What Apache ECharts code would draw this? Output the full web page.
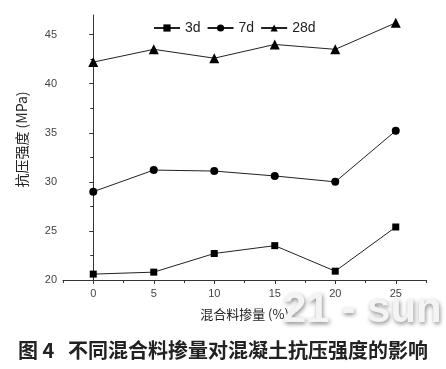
<!DOCTYPE html>
<html><head><meta charset="utf-8">
<script src="https://cdn.jsdelivr.net/npm/echarts@6/dist/echarts.min.js"></script>
<style>html,body{margin:0;padding:0;background:#fff}#c{width:446px;height:369px}</style>
</head><body><div id="c"></div>
<script>
const dosage = [0, 5, 10, 15, 20, 25];
const s3d = [20.6, 20.8, 22.7, 23.5, 20.9, 25.4];
const s7d = [29.0, 31.2, 31.1, 30.6, 30.0, 35.2];
const s28d = [42.2, 43.5, 42.6, 44.0, 43.5, 46.2];
const xTicks = [0, 5, 10, 15, 20, 25];
const xMinor = [-2.5, 2.5, 7.5, 12.5, 17.5, 22.5, 27.5];
const yTicks = [20, 25, 30, 35, 40, 45];
const yMinor = [22.5, 27.5, 32.5, 37.5, 42.5];

const font = '"Liberation Sans", Arial, sans-serif';
const cjk = '"Noto Sans CJK SC", sans-serif';
const pair = arr => dosage.map((d, i) => [d, arr[i]]);
const lineStyle = { color: '#222', width: 1 };
const chart = echarts.init(document.getElementById('c'));
chart.setOption({
  animation: false,
  backgroundColor: '#fff',
  grid: { left: 63, right: 20, top: 15, bottom: 89 },
  legend: {
    top: 16, left: 148,
    itemWidth: 26, itemHeight: 9, itemGap: 6,
    textStyle: { fontFamily: font, fontSize: 14, color: '#222' },
    data: ['3d', '7d', '28d']
  },
  xAxis: [{
    type: 'value', min: -2.5, max: 27.5,
    name: '混合料掺量 (%)', nameLocation: 'middle', nameGap: 28,
    nameTextStyle: { fontFamily: cjk, fontSize: 13, color: '#222' },
    axisLine: { lineStyle: { color: '#333', width: 1 } },
    axisTick: { show: true, length: 4, customValues: xTicks, lineStyle: { color: '#333' } },
    axisLabel: { customValues: xTicks, fontFamily: font, fontSize: 11, color: '#444', margin: 8 },
    splitLine: { show: false }
  }, {
    type: 'value', min: -2.5, max: 27.5, position: 'bottom',
    axisLine: { show: false },
    axisTick: { show: true, length: 3, customValues: xMinor, lineStyle: { color: '#333' } },
    axisLabel: { show: false },
    splitLine: { show: false }
  }],
  yAxis: [{
    type: 'value', min: 20, max: 47,
    name: '抗压强度 (MPa)', nameLocation: 'middle', nameGap: 34, nameRotate: 90,
    nameTextStyle: { fontFamily: cjk, fontSize: 14, color: '#222', padding: [0, 0, 0, 16] },
    axisLine: { show: true, lineStyle: { color: '#333', width: 1 } },
    axisTick: { show: true, length: 4, customValues: yTicks, lineStyle: { color: '#333' } },
    axisLabel: { customValues: yTicks, fontFamily: font, fontSize: 11, color: '#444', margin: 6 },
    splitLine: { show: false }
  }, {
    type: 'value', min: 20, max: 47, position: 'left',
    axisLine: { show: false },
    axisTick: { show: true, length: 3, customValues: yMinor, lineStyle: { color: '#333' } },
    axisLabel: { show: false },
    splitLine: { show: false }
  }],
  graphic: [{
    type: 'text', left: 'center', top: 340,
    style: { text: '图 4   不同混合料掺量对混凝土抗压强度的影响', font: 'bold 20px "Noto Sans CJK SC", sans-serif', fill: '#222' }
  }, {
    type: 'text', left: 283, top: 289, z: 100,
    style: { text: '21 - sun', font: 'bold 42px "Liberation Sans Narrow", "Liberation Sans", Arial, sans-serif', fill: '#f4f4f4',
      textShadowColor: 'rgba(0,0,0,0.45)', textShadowBlur: 4, textShadowOffsetX: 1, textShadowOffsetY: 2 }
  }],
  series: [
    { name: '3d', type: 'line', data: pair(s3d), symbol: 'rect', symbolSize: 7,
      lineStyle, itemStyle: { color: '#000' } },
    { name: '7d', type: 'line', data: pair(s7d), symbol: 'circle', symbolSize: 8,
      lineStyle, itemStyle: { color: '#000' } },
    { name: '28d', type: 'line', data: pair(s28d), symbol: 'triangle', symbolSize: 10,
      lineStyle, itemStyle: { color: '#000' } }
  ]
});
</script></body></html>
